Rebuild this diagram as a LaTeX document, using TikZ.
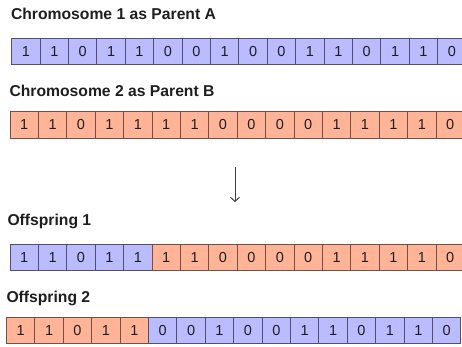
\documentclass[tikz,border=0pt]{standalone}
\usepackage{fontspec}
\setmainfont{Liberation Sans}
\usetikzlibrary{arrows.meta}
\definecolor{parentA}{RGB}{187,187,255}
\definecolor{parentB}{RGB}{255,180,152}
\definecolor{edgeA}{RGB}{80,80,110}
\definecolor{edgeB}{RGB}{115,80,66}
\definecolor{ink}{RGB}{30,30,30}
\begin{document}
\begin{tikzpicture}[x=1pt,y=-1pt,
  cell/.style={line width=1pt,
    minimum width=28.4pt, minimum height=26.5pt, inner sep=0pt, outer sep=0pt,
    anchor=north west, font=\fontsize{14.5}{16}\selectfont, text=ink},
  cellA/.style={cell, fill=parentA, draw=edgeA},
  cellB/.style={cell, fill=parentB, draw=edgeB},
  heading/.style={anchor=base west, inner sep=0pt, outer sep=0pt,
    font=\bfseries\fontsize{15.7}{18}\selectfont, text=ink}]
\useasboundingbox (0,0) rectangle (462,347);
\clip (0,0) rectangle (462,347);

% Parent A
\node[heading] (titleA) at (11,20) {Chromosome 1 as Parent A};
\foreach \b [count=\i] in {1,1,0,1,1,0,0,1,0,0,1,1,0,1,1,0}
  \node[cellA] (a\i) at ({11.7+(\i-1)*28.4},38.3) {\b};

% Parent B
\node[heading] (titleB) at (9.5,96.7) {Chromosome 2 as Parent B};
\foreach \b [count=\i] in {1,1,0,1,1,1,1,0,0,0,0,1,1,1,1,0}
  \node[cellB] (b\i) at ({10+(\i-1)*28.4},111.7) {\b};

% crossover arrow
\coordinate (arrowtop) at (235,167);
\coordinate (arrowtip) at (235,202);
\draw[-{Straight Barb[length=4pt,width=9pt]}, line width=1pt, ink!85]
  (arrowtop) -- (arrowtip);

% Offspring 1: head of A, tail of B
\node[heading] (titleO1) at (7.5,225) {Offspring 1};
\foreach \b [count=\i] in {1,1,0,1,1}
  \node[cellA] (o\i) at ({10+(\i-1)*28.4},244.3) {\b};
\foreach \b [count=\i from 6] in {1,1,0,0,0,0,1,1,1,1,0}
  \node[cellB] (o\i) at ({10+(\i-1)*28.4},244.3) {\b};

% Offspring 2: head of B, tail of A
\node[heading] (titleO2) at (6.5,302.7) {Offspring 2};
\foreach \b [count=\i] in {1,1,0,1,1}
  \node[cellB] (p\i) at ({6.5+(\i-1)*28.4},317) {\b};
\foreach \b [count=\i from 6] in {0,0,1,0,0,1,1,0,1,1,0}
  \node[cellA] (p\i) at ({6.5+(\i-1)*28.4},317) {\b};
\end{tikzpicture}
\end{document}
